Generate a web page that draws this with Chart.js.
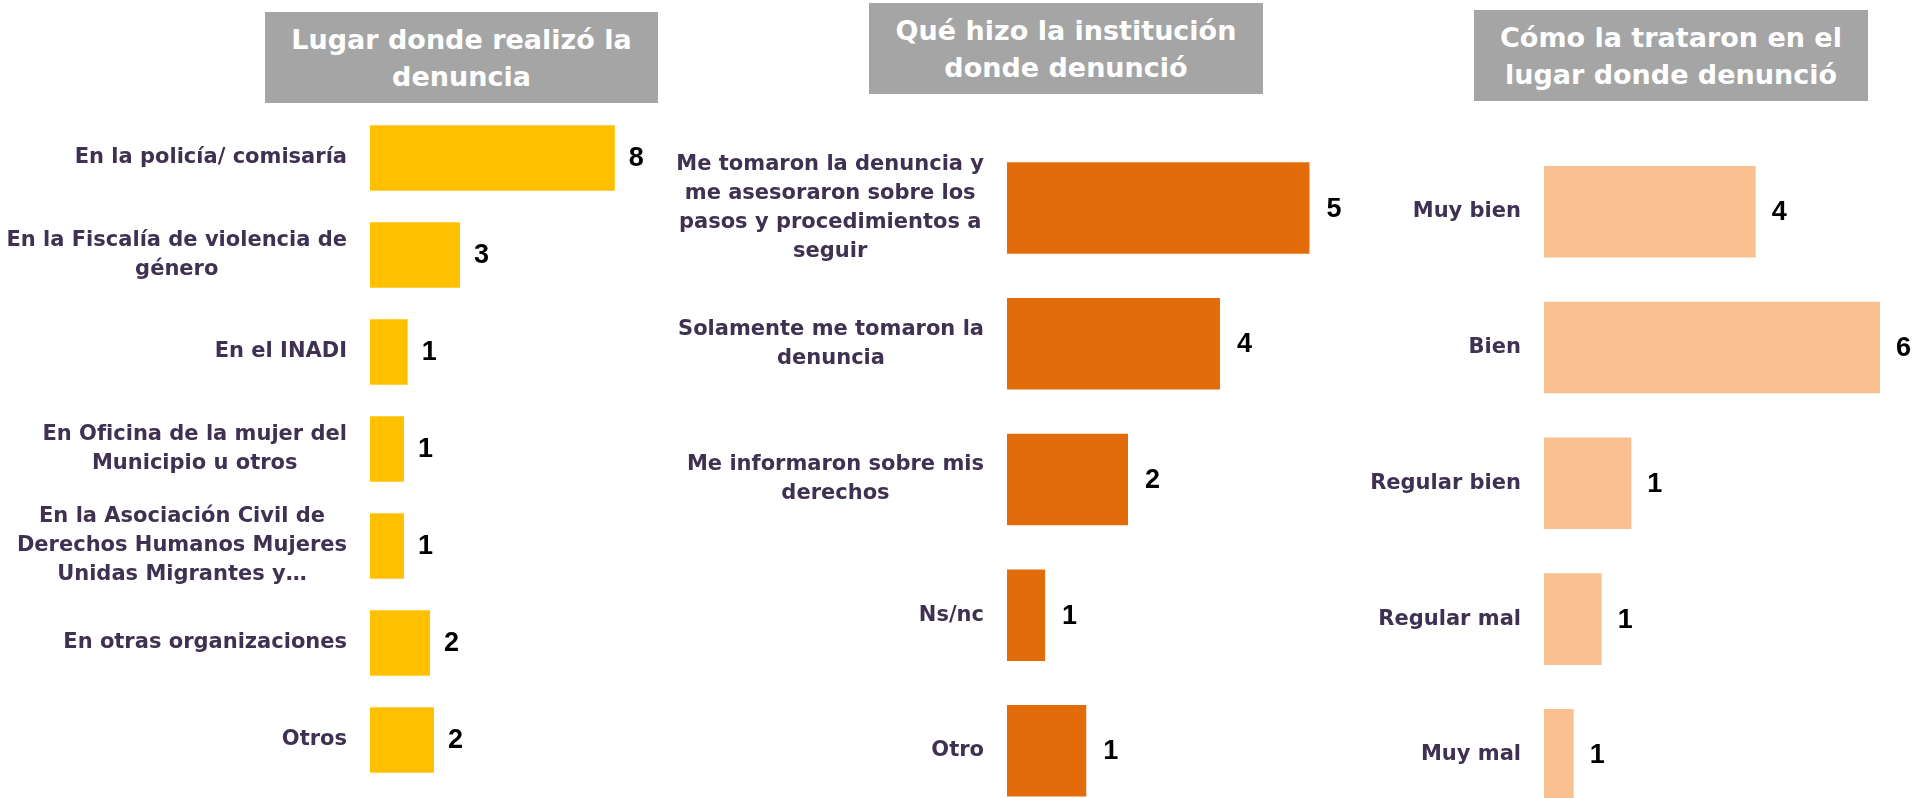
<!DOCTYPE html>
<html lang="es">
<head>
<meta charset="UTF-8">
<title>Denuncias</title>
<script src="https://cdn.jsdelivr.net/npm/chart.js"></script>
<style>
  html, body { margin: 0; padding: 0; background: #fff; width: 1915px; height: 798px; overflow: hidden; }
  canvas { position: absolute; left: 0; top: 0; }
  .titulo {
    position: absolute; height: 91px; background: #A5A5A5; color: #fff;
    font: bold 27px "DejaVu Sans", sans-serif; line-height: 37px; text-align: center;
    display: flex; align-items: center; justify-content: center;
  }
</style>
</head>
<body>
<div class="titulo" style="left:265px; top:12px; width:393px;">Lugar donde realizó la<br>denuncia</div>
<div class="titulo" style="left:869px; top:3px; width:394px;">Qué hizo la institución<br>donde denunció</div>
<div class="titulo" style="left:1474px; top:10px; width:394px;">Cómo la trataron en el<br>lugar donde denunció</div>

<canvas id="lugar" width="1915" height="830"></canvas>
<canvas id="institucion" width="1915" height="830"></canvas>
<canvas id="trato" width="1915" height="830"></canvas>

<script>
// Lugar donde realizó la denuncia
const lugarCategorias = [
  "En la policía/ comisaría",
  ["En la Fiscalía de violencia de", "género"],
  "En el INADI",
  ["En Oficina de la mujer del", "Municipio u otros"],
  ["En la Asociación Civil de", "Derechos Humanos Mujeres", "Unidas Migrantes y…"],
  "En otras organizaciones",
  "Otros"
];
const lugarValores = [8, 2.94, 1.23, 1.11, 1.11, 1.96, 2.09];
const lugarEtiquetas = ["8", "3", "1", "1", "1", "2", "2"];

// Qué hizo la institución donde denunció
const institucionCategorias = [
  ["Me tomaron la denuncia y", "me asesoraron sobre los", "pasos y procedimientos a", "seguir"],
  ["Solamente me tomaron la", "denuncia"],
  ["Me informaron sobre mis", "derechos"],
  "Ns/nc",
  "Otro"
];
const institucionValores = [5, 3.52, 2.0, 0.63, 1.31];
const institucionEtiquetas = ["5", "4", "2", "1", "1"];

// Cómo la trataron en el lugar donde denunció
const tratoCategorias = ["Muy bien", "Bien", "Regular bien", "Regular mal", "Muy mal"];
const tratoValores = [3.78, 6, 1.56, 1.03, 0.53];
const tratoEtiquetas = ["4", "6", "1", "1", "1"];

// category labels (centered lines, block right-aligned) + value labels
function textos(etiquetas, desplazamiento) {
  return {
    id: "textos",
    afterDatasetsDraw(chart) {
      const ctx = chart.ctx;
      const y = chart.scales.y;
      ctx.save();
      ctx.textBaseline = "middle";
      ctx.font = 'bold 21px "DejaVu Sans", sans-serif';
      ctx.fillStyle = "#3F3151";
      ctx.textAlign = "center";
      chart.data.labels.forEach((lab, i) => {
        const lineas = Array.isArray(lab) ? lab : [lab];
        const ancho = Math.max(...lineas.map(l => ctx.measureText(l).width));
        const cx = chart.chartArea.left - 23 - ancho / 2;
        const cy = y.getPixelForValue(i);
        lineas.forEach((l, k) => {
          ctx.fillText(l, cx, cy + (k - (lineas.length - 1) / 2) * 29);
        });
      });
      ctx.font = 'bold 27px "Liberation Sans", Arial, sans-serif';
      ctx.fillStyle = "#000";
      ctx.textAlign = "left";
      chart.getDatasetMeta(0).data.forEach((bar, i) => {
        ctx.fillText(etiquetas[i], bar.x + desplazamiento, bar.y + 1);
      });
      ctx.restore();
    }
  };
}

function crearGrafico(id, categorias, valores, etiquetas, color, cfg) {
  return new Chart(document.getElementById(id), {
    type: "bar",
    data: {
      labels: categorias,
      datasets: [{
        data: valores,
        backgroundColor: color,
        barPercentage: cfg.grosor,
        categoryPercentage: 1
      }]
    },
    options: {
      indexAxis: "y",
      responsive: false,
      animation: false,
      layout: {
        padding: { left: cfg.izq, right: 1915 - cfg.der, top: cfg.arriba, bottom: 830 - cfg.abajo }
      },
      scales: {
        x: { display: false, min: 0, max: cfg.max },
        y: { display: false }
      },
      plugins: { legend: { display: false }, tooltip: { enabled: false } }
    },
    plugins: [textos(etiquetas, cfg.desp)]
  });
}

crearGrafico("lugar", lugarCategorias, lugarValores, lugarEtiquetas, "#FFC000",
  { izq: 370, der: 676, max: 10, arriba: 109.5, abajo: 788.5, grosor: 0.677, desp: 14 });
crearGrafico("institucion", institucionCategorias, institucionValores, institucionEtiquetas, "#E36C0A",
  { izq: 1007, der: 1370, max: 6, arriba: 140.2, abajo: 818.7, grosor: 0.674, desp: 17 });
crearGrafico("trato", tratoCategorias, tratoValores, tratoEtiquetas, "#FAC090",
  { izq: 1544, der: 1880, max: 6, arriba: 143.9, abajo: 822.7, grosor: 0.675, desp: 16 });
</script>
</body>
</html>
